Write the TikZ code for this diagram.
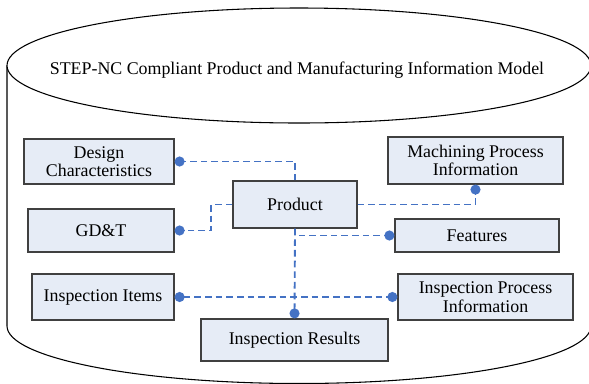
\documentclass[tikz,border=0pt]{standalone}
\usepackage{fontspec}
\setmainfont{Liberation Serif}
\usetikzlibrary{positioning, arrows.meta}

\definecolor{boxfill}{RGB}{230,236,246}
\definecolor{boxline}{RGB}{64,64,64}
\definecolor{linkblue}{RGB}{68,114,196}

\begin{document}
\begin{tikzpicture}[x=0.75pt, y=-0.75pt,
    box/.style={draw=boxline, line width=0.9pt, fill=boxfill, align=center,
                font=\fontsize{13.4}{13.8}\selectfont, inner sep=1pt},
    link/.style={draw=linkblue, line width=1.4pt, dash pattern=on 5pt off 3pt},
    dot/.style={-{Circle[length=7.5pt]}}]
        \useasboundingbox (0,0) rectangle (589,383);
        \clip (0,0) rectangle (589,383);
        %---------------------------
        \draw[line width=0.8pt] (7,65.5) -- (7,326) arc[start angle=180, end angle=0, x radius=292, y radius=57.5] -- (591,65.5);
        \draw[line width=0.8pt, fill=white] (299,65.5) ellipse[x radius=292, y radius=57.5];
        \node[font=\fontsize{13.4}{15}\selectfont] (model) at (297,70) {STEP-NC Compliant Product and Manufacturing Information Model};
        %---------------------------
        \node[box, minimum width=112.5pt, minimum height=33.75pt] (design) at (99,161.5) {Design\\Characteristics};
        \node[box, minimum width=109.5pt, minimum height=32.25pt] (gdt) at (101,230.5) {GD\&T};
        \node[box, minimum width=93pt, minimum height=35.25pt] (product) at (295,204.5) {Product};
        \node[box, minimum width=131.25pt, minimum height=35.25pt] (machining) at (475.5,160.5) {Machining Process\\Information};
        \node[box, minimum width=123pt, minimum height=24.75pt] (features) at (477,235.5) {Features};
        \node[box, minimum width=106.5pt, minimum height=34.5pt] (items) at (103,297) {Inspection Items};
        \node[box, minimum width=131.25pt, minimum height=34.5pt] (process) at (485.5,297) {Inspection Process\\Information};
        \node[box, minimum width=140.25pt, minimum height=31.5pt] (results) at (294.5,340) {Inspection Results};
        %--------------------------
        \draw[link, dot] (product.north) |- (design.east);
        \draw[link, dot] (product.west) -- ++(-21,0) |- (gdt.east);
        \draw[link, dot] (product.east) -| (machining.south);
        \draw[link, dot] (product.south) |- (features.west);
        \draw[link, dot] (product.south) -- (results.north);
        \draw[link, {Circle[length=7.5pt]}-{Circle[length=7.5pt]}] (items.east) -- (process.west);
\end{tikzpicture}
\end{document}
